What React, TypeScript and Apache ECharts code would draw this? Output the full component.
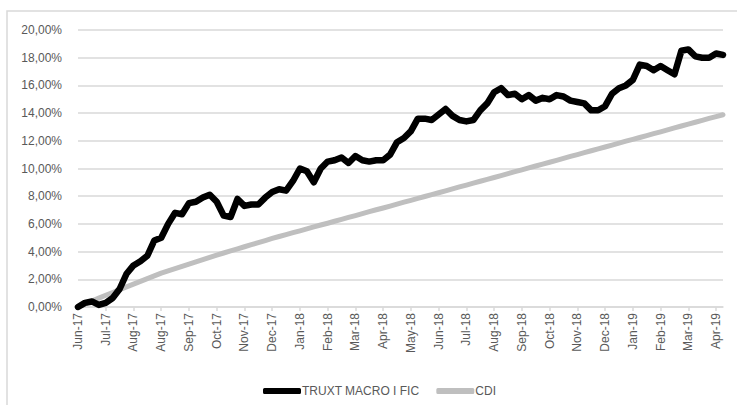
import React, { useEffect, useRef } from "react";
import * as echarts from "echarts";

const tickLabels = [
  "Jun-17", "Jul-17", "Aug-17", "Aug-17", "Sep-17", "Oct-17", "Nov-17", "Dec-17",
  "Jan-18", "Feb-18", "Mar-18", "Apr-18", "May-18", "Jun-18", "Jul-18", "Aug-18",
  "Sep-18", "Oct-18", "Nov-18", "Dec-18", "Jan-19", "Feb-19", "Mar-19", "Apr-19",
];
const stepsPerTick = 4;

const truxt = [
  0.0, 0.3, 0.4, 0.15, 0.3, 0.65, 1.3, 2.4, 3.0, 3.3,
  3.7, 4.8, 5.0, 6.0, 6.8, 6.7, 7.5, 7.6, 7.9, 8.1,
  7.6, 6.6, 6.5, 7.8, 7.3, 7.4, 7.4, 7.9, 8.3, 8.5,
  8.4, 9.1, 10.0, 9.8, 9.0, 10.0, 10.5, 10.6, 10.8, 10.4,
  10.9, 10.6, 10.5, 10.6, 10.6, 11.0, 11.9, 12.2, 12.7, 13.6,
  13.6, 13.5, 13.9, 14.3, 13.8, 13.5, 13.4, 13.5, 14.2, 14.7,
  15.5, 15.8, 15.3, 15.4, 15.0, 15.3, 14.9, 15.1, 15.0, 15.3,
  15.2, 14.9, 14.8, 14.7, 14.2, 14.2, 14.5, 15.4, 15.8, 16.0,
  16.4, 17.5, 17.4, 17.1, 17.4, 17.1, 16.8, 18.5, 18.6, 18.1,
  18.0, 18.0, 18.3, 18.2,
];

const cdi = [
  0, 0.22, 0.43, 0.64, 0.85,
  1.05, 1.25, 1.45, 1.65,
  1.85, 2.05, 2.25, 2.45,
  2.61, 2.77, 2.94, 3.1,
  3.26, 3.42, 3.59, 3.75,
  3.9, 4.05, 4.2, 4.35,
  4.5, 4.65, 4.8, 4.95,
  5.09, 5.23, 5.37, 5.5,
  5.64, 5.78, 5.92, 6.05,
  6.19, 6.33, 6.47, 6.6,
  6.74, 6.88, 7.02, 7.15,
  7.29, 7.43, 7.57, 7.7,
  7.84, 7.98, 8.12, 8.25,
  8.39, 8.53, 8.67, 8.8,
  8.94, 9.08, 9.22, 9.35,
  9.49, 9.63, 9.77, 9.9,
  10.04, 10.18, 10.32, 10.45,
  10.59, 10.73, 10.87, 11.0,
  11.14, 11.28, 11.42, 11.55,
  11.69, 11.83, 11.97, 12.1,
  12.24, 12.38, 12.52, 12.65,
  12.79, 12.93, 13.07, 13.2,
  13.34, 13.48, 13.62, 13.75,
  13.88,
];

const seriesNames = ["TRUXT MACRO I FIC", "CDI"];
const FONT = "'Liberation Sans', Arial, sans-serif";

export default function App() {
  const ref = useRef<HTMLDivElement>(null);
  useEffect(() => {
    if (!ref.current) return;
    const chart = echarts.init(ref.current, null, { renderer: "svg" });
    const categories = truxt.map((_, i) => String(i));
    chart.setOption({
      animation: false,
      textStyle: { fontFamily: FONT },
      graphic: [
        {
          type: "rect",
          shape: { x: 7, y: 11, width: 740, height: 400 },
          style: { fill: "none", stroke: "#d9d9d9", lineWidth: 1.5 },
          silent: true,
        },
      ],
      grid: { left: 78, right: 14, top: 30, bottom: 98, containLabel: false },
      legend: {
        left: 258,
        top: 380,
        itemWidth: 38,
        itemHeight: 6,
        itemGap: 17,
        icon: "roundRect",
        textStyle: { fontFamily: FONT, fontSize: 12, color: "#595959", padding: [0, 0, 0, -4] },
        data: seriesNames,
      },
      xAxis: {
        type: "category",
        data: categories,
        boundaryGap: false,
        axisLine: { lineStyle: { color: "#d9d9d9", width: 1.5 } },
        axisTick: {
          show: true,
          interval: stepsPerTick - 1,
          length: 4,
          lineStyle: { color: "#d9d9d9", width: 1.5 },
        },
        axisLabel: {
          interval: stepsPerTick - 1,
          rotate: 90,
          margin: 6,
          fontSize: 12,
          color: "#595959",
          fontFamily: FONT,
          formatter: (_v: string, idx: number) => tickLabels[idx / stepsPerTick] ?? "",
        },
        splitLine: { show: false },
      },
      yAxis: {
        type: "value",
        min: 0,
        max: 20,
        interval: 2,
        axisLine: { show: false },
        axisTick: { show: false },
        axisLabel: {
          margin: 16,
          fontSize: 12,
          color: "#595959",
          fontFamily: FONT,
          formatter: (v: number) => v.toFixed(2).replace(".", ",") + "%",
        },
        splitLine: { lineStyle: { color: "#d9d9d9", width: 1.5 } },
      },
      series: [
        {
          name: seriesNames[1],
          type: "line",
          data: cdi,
          showSymbol: false,
          symbol: "none",
          itemStyle: { color: "#bfbfbf" },
          lineStyle: { color: "#bfbfbf", width: 5, cap: "round", join: "round" },
          z: 2,
        },
        {
          name: seriesNames[0],
          type: "line",
          data: truxt,
          showSymbol: false,
          symbol: "none",
          itemStyle: { color: "#000000" },
          lineStyle: { color: "#000000", width: 6.5, cap: "round", join: "round" },
          z: 3,
        },
      ],
    });
    return () => chart.dispose();
  }, []);
  return (
    <div
      ref={ref}
      style={{ position: "fixed", left: 0, top: 0, width: 737, height: 405, background: "#ffffff" }}
    />
  );
}
